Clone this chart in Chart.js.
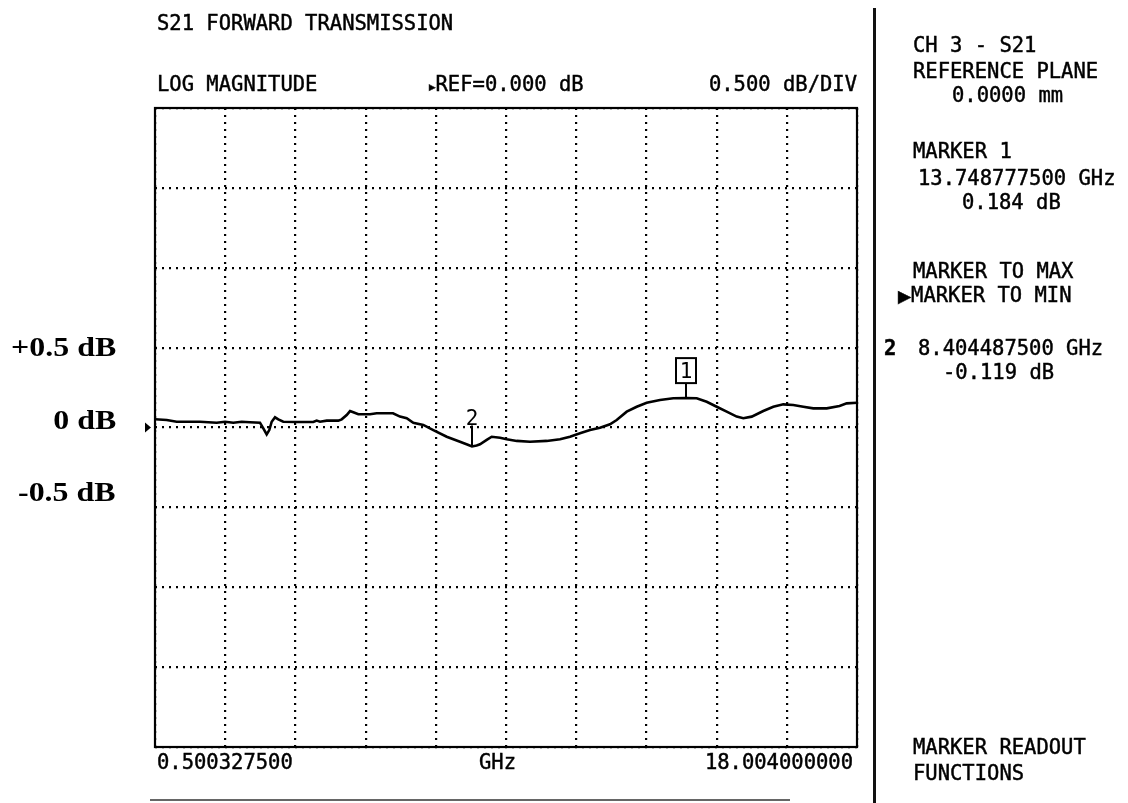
<!DOCTYPE html>
<html>
<head>
<meta charset="utf-8">
<title>S21 Forward Transmission</title>
<script src="https://cdn.jsdelivr.net/npm/chart.js@4/dist/chart.umd.min.js"></script>
<style>
  html, body { margin: 0; padding: 0; background: #fff; }
  #wrap { position: relative; width: 1128px; height: 803px; overflow: hidden; background: #fff; }
  #plot { position: absolute; left: 0; top: 0; }
  .t { position: absolute; font-family: "DejaVu Sans Mono", monospace; font-size: 20.5px; line-height: 20px; color: #000; white-space: pre; -webkit-text-stroke: 0.45px #000; }
  .tri { font-family: "DejaVu Sans", sans-serif; font-size: 13px; }
  .tri-big { font-family: "DejaVu Sans", sans-serif; font-size: 17px; }
  .db { position: absolute; right: 1012px; font-family: "Liberation Serif", "Times New Roman", serif; font-weight: bold; font-size: 28px; line-height: 28px; color: #000; white-space: pre; transform-origin: right center; transform: scaleX(1.14); }
  .rule { position: absolute; background: #111; }
</style>
</head>
<body>
<div id="wrap">
  <canvas id="plot" width="1128" height="803"></canvas>

  <div class="t" style="left:157px; top:13px;">S21 FORWARD TRANSMISSION</div>
  <div class="t" style="left:157px; top:74px;">LOG MAGNITUDE</div>
  <div class="t" style="left:429px; top:74px;"><span class="tri">▸</span>REF=0.000 dB</div>
  <div class="t" style="right:271px; top:74px;">0.500 dB/DIV</div>

  <div class="t" style="left:157px; top:752px;">0.500327500</div>
  <div class="t" style="left:479px; top:752px;">GHz</div>
  <div class="t" style="right:275px; top:752px;">18.004000000</div>

  <div class="t" style="left:913px; top:35px;">CH 3 - S21</div>
  <div class="t" style="left:913px; top:61px;">REFERENCE PLANE</div>
  <div class="t" style="left:952px; top:85px;">0.0000 mm</div>
  <div class="t" style="left:913px; top:141px;">MARKER 1</div>
  <div class="t" style="left:918px; top:168px;">13.748777500 GHz</div>
  <div class="t" style="left:962px; top:192px;">0.184 dB</div>
  <div class="t" style="left:913px; top:261px;">MARKER TO MAX</div>
  <div class="t" style="left:898px; top:285px;"><span class="tri-big">▶</span>MARKER TO MIN</div>
  <div class="t" style="left:884px; top:338px; font-weight:bold;">2</div>
  <div class="t" style="left:918px; top:338px;">8.404487500 GHz</div>
  <div class="t" style="left:943px; top:362px;">-0.119 dB</div>
  <div class="t" style="left:913px; top:737px;">MARKER READOUT</div>
  <div class="t" style="left:913px; top:763px;">FUNCTIONS</div>

  <div class="db" style="top:333px;">+0.5 dB</div>
  <div class="db" style="top:406px;">0 dB</div>
  <div class="db" style="top:478px;">-0.5 dB</div>

  <div class="rule" style="left:873px; top:8px; width:3px; height:795px;"></div>
  <div class="rule" style="left:150px; top:799px; width:640px; height:2px; background:#666;"></div>
</div>

<script>
// Sweep settings
const startGHz = 0.5003275;
const stopGHz = 18.004;
const refLevelDb = 0;
const dbPerDiv = 0.5;
const xDivisions = 10;
const yDivisions = 8;

// Measured |S21| trace
const freqGHz = [
  0.500, 0.792, 1.041, 1.622, 2.039, 2.246, 2.453, 2.662, 2.869, 3.118,
  3.201, 3.285, 3.350, 3.410, 3.493, 3.575, 3.699, 4.034, 4.447, 4.532,
  4.615, 4.782, 5.071, 5.156, 5.280, 5.363, 5.445, 5.570, 5.861, 6.028,
  6.317, 6.435, 6.609, 6.776, 6.941, 7.190, 7.440, 7.774, 8.105, 8.300,
  8.404, 8.520, 8.604, 8.771, 8.896, 9.103, 9.270, 9.519, 9.851, 10.267,
  10.599, 10.848, 11.097, 11.347, 11.596, 11.845, 12.012, 12.262, 12.511, 12.760,
  13.092, 13.424, 13.749, 14.007, 14.256, 14.506, 14.755, 15.004, 15.169, 15.378,
  15.667, 15.917, 16.166, 16.415, 16.665, 16.914, 17.249, 17.568, 17.748, 18.004
];
const s21dB = [
  0.052, 0.047, 0.036, 0.036, 0.030, 0.036, 0.030, 0.036, 0.033, 0.030,
  -0.005, -0.043, -0.016, 0.036, 0.064, 0.051, 0.036, 0.034, 0.034, 0.043,
  0.036, 0.043, 0.043, 0.051, 0.078, 0.103, 0.095, 0.083, 0.083, 0.089,
  0.089, 0.089, 0.068, 0.058, 0.030, 0.016, -0.016, -0.058, -0.089, -0.108,
  -0.119, -0.112, -0.105, -0.078, -0.058, -0.064, -0.074, -0.084, -0.089, -0.084,
  -0.074, -0.058, -0.036, -0.016, -0.001, 0.020, 0.047, 0.099, 0.130, 0.155,
  0.172, 0.183, 0.184, 0.183, 0.161, 0.130, 0.099, 0.068, 0.058, 0.068,
  0.103, 0.130, 0.145, 0.141, 0.130, 0.120, 0.120, 0.135, 0.151, 0.155
];

// Markers
const markerNames = ['1', '2'];
const markerFreqGHz = [13.7487775, 8.4044875];
const markerDb = [0.184, -0.119];
const activeMarker = '1';

const traceData = freqGHz.map((f, i) => ({ x: f, y: s21dB[i] }));

const xDivTicks = [];
for (let k = 0; k <= xDivisions; k++) xDivTicks.push({ value: startGHz + (stopGHz - startGHz) * k / xDivisions });
const yDivTicks = [];
for (let k = 0; k <= yDivisions; k++) yDivTicks.push({ value: refLevelDb - dbPerDiv * yDivisions / 2 + dbPerDiv * k });

const INK = '#000';
const MONO = '"DejaVu Sans Mono", monospace';

// Frame, marker flags and reference arrow
const analyzerOverlay = {
  id: 'analyzerOverlay',
  afterDatasetsDraw(chart) {
    const { ctx, chartArea: a, scales: { x, y } } = chart;
    ctx.save();
    ctx.strokeStyle = '#000';
    ctx.lineWidth = 2.2;
    ctx.strokeRect(a.left, a.top, a.right - a.left, a.bottom - a.top);

    // reference level arrow at the left edge
    const ry = y.getPixelForValue(refLevelDb);
    ctx.fillStyle = '#000';
    ctx.beginPath();
    ctx.moveTo(a.left - 10, ry - 5);
    ctx.lineTo(a.left - 4, ry);
    ctx.lineTo(a.left - 10, ry + 5);
    ctx.closePath();
    ctx.fill();

    ctx.lineWidth = 2;
    ctx.strokeStyle = INK;
    ctx.fillStyle = INK;
    ctx.font = '21px ' + MONO;
    ctx.textAlign = 'center';
    ctx.textBaseline = 'alphabetic';
    markerNames.forEach((name, i) => {
      const px = Math.round(x.getPixelForValue(markerFreqGHz[i]));
      const py = y.getPixelForValue(markerDb[i]);
      if (name === activeMarker) {
        const boxBottom = py - 15;
        ctx.beginPath();
        ctx.moveTo(px, py);
        ctx.lineTo(px, boxBottom);
        ctx.stroke();
        ctx.strokeRect(px - 10, boxBottom - 25, 20, 25);
        ctx.fillText(name, px, boxBottom - 5);
      } else {
        const top = py - 21;
        ctx.beginPath();
        ctx.moveTo(px, py);
        ctx.lineTo(px, top);
        ctx.stroke();
        ctx.fillText(name, px, top - 1);
      }
    });
    ctx.restore();
  }
};

new Chart(document.getElementById('plot'), {
  type: 'line',
  data: {
    datasets: [{
      label: 'S21',
      data: traceData,
      borderColor: '#000',
      borderWidth: 2.6,
      pointRadius: 0,
      tension: 0,
      fill: false
    }]
  },
  options: {
    responsive: false,
    animation: false,
    events: [],
    layout: { padding: { left: 155, top: 108, right: 271, bottom: 56 } },
    plugins: { legend: { display: false }, tooltip: { enabled: false }, title: { display: false } },
    scales: {
      x: {
        type: 'linear',
        min: startGHz,
        max: stopGHz,
        afterBuildTicks: (s) => { s.ticks = xDivTicks.map(t => ({ value: t.value })); },
        ticks: { display: false },
        grid: { color: INK, lineWidth: 2.2, drawTicks: false },
        border: { display: false, dash: [2, 5] }
      },
      y: {
        type: 'linear',
        min: refLevelDb - dbPerDiv * yDivisions / 2,
        max: refLevelDb + dbPerDiv * yDivisions / 2,
        afterBuildTicks: (s) => { s.ticks = yDivTicks.map(t => ({ value: t.value })); },
        ticks: { display: false },
        grid: { color: INK, lineWidth: 2.2, drawTicks: false },
        border: { display: false, dash: [2, 5] }
      }
    }
  },
  plugins: [analyzerOverlay]
});
</script>
</body>
</html>
